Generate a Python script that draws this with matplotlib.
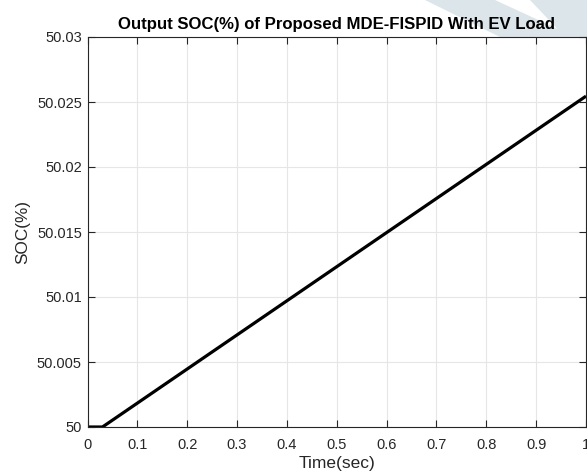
import numpy as np
import matplotlib.pyplot as plt
from matplotlib.patches import Polygon

plt.rcParams['font.family'] = ['Liberation Sans', 'DejaVu Sans']

# data
time_s = [0.0, 0.03, 1.0]
soc = [50.0, 50.0, 50.02545]
xticks = [0, 0.1, 0.2, 0.3, 0.4, 0.5, 0.6, 0.7, 0.8, 0.9, 1]
xtick_labels = ['0', '0.1', '0.2', '0.3', '0.4', '0.5', '0.6', '0.7', '0.8', '0.9', '1']
yticks = [50, 50.005, 50.01, 50.015, 50.02, 50.025, 50.03]
ytick_labels = ['50', '50.005', '50.01', '50.015', '50.02', '50.025', '50.03']

W, H = 587, 474
fig = plt.figure(figsize=(W / 100, H / 100), dpi=100)

# faint watermark shapes behind the title
wm = '#dce5ea'
for pts in ([(425, 0), (495, 0), (575, 37), (500, 37)],
            [(530, 0), (587, 0), (587, 37), (565, 37)]):
    fig.add_artist(Polygon([(x / W, 1 - y / H) for x, y in pts], closed=True,
                           transform=fig.transFigure, facecolor=wm,
                           edgecolor='none', zorder=-1))

ax = fig.add_axes([87.5 / W, 1 - 427 / H, (586 - 87.5) / W, (427 - 37) / H])
ax.plot(time_s, soc, color='black', linewidth=2.3, solid_capstyle='butt')

ax.set_xlim(0, 1)
ax.set_ylim(50, 50.03)
ax.set_xticks(xticks)
ax.set_xticklabels(xtick_labels)
ax.set_yticks(yticks)
ax.set_yticklabels(ytick_labels)
ax.tick_params(direction='in', top=True, right=True, length=5, width=0.8,
               labelsize=10.5, colors='#262626', labelcolor='#262626')
ax.tick_params(axis='x', pad=8)
ax.tick_params(axis='y', pad=4)
ax.grid(True, color='#e6e6e6', linewidth=0.8)
ax.set_axisbelow(True)
for s in ax.spines.values():
    s.set_color('#262626')
    s.set_linewidth(0.8)

ax.set_xlabel('Time(sec)', fontsize=12.5, color='#262626', labelpad=3)
ax.set_ylabel('SOC(%)', fontsize=12.3, color='#262626', labelpad=5)
ax.set_title('Output SOC(%) of Proposed MDE-FISPID With EV Load',
             fontsize=12.1, fontweight='bold', pad=6)

fig.savefig('out.png', dpi=100)
